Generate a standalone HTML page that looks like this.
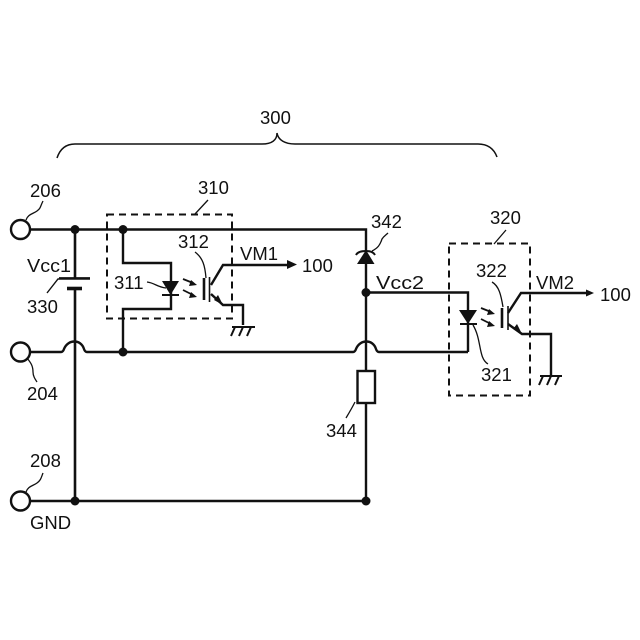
<!DOCTYPE html>
<html><head><meta charset="utf-8"><style>
html,body{margin:0;padding:0;background:#fff}
svg{display:block}
text{font-family:"Liberation Sans",sans-serif;font-size:18.500px;fill:#111}
</style></head><body>
<svg width="640" height="640" viewBox="0 0 640 640" xmlns="http://www.w3.org/2000/svg">
<g fill="none" stroke="#111" stroke-width="2.400">
<!-- main rails -->
<path d="M30 229.500H366V252"/>
<path d="M30 352H61Q63 352 64 349C68 339 81 339 84 349Q85 352 87 352H353Q355 352 356 349C360 339 373 339 376 349Q377 352 379 352H468"/>
<path d="M468 352V292.500H366"/>
<path d="M30 501H366V403M366 371V262"/>
<path d="M75 229V278M75 288V501" stroke-width="2.600"/>
<rect x="357.500" y="371" width="17.500" height="32"/>
<!-- opto 1 -->
<path d="M123 229V263H171V309H123V352"/>
<path d="M211 285L223 265H288M211 294L223 305H243V325"/>
<path d="M204 278V300" stroke-width="2.600"/>
<path d="M209.500 277V302" stroke-width="1.600"/>
<path d="M162 295H179" stroke-width="2"/>
<!-- ground 1 -->
<path d="M232 327H255M235 327L231 336M243 327L239 336M251 327L247 336" stroke-width="2"/>
<!-- opto 2 -->
<path d="M460 324H477" stroke-width="2"/>
<path d="M508 313L521 293H588M508 324L522 334H551V376"/>
<path d="M502 308V328" stroke-width="2.600"/>
<path d="M508 306V330" stroke-width="1.600"/>
<path d="M540 376H562M543 376L539 385M551 376L547 385M559 376L555 385" stroke-width="2"/>
<!-- zener -->
<path d="M356 255Q358 251 366 251Q373 251 375 255" stroke-width="2"/>
</g>
<!-- battery -->
<path d="M59 278H90" stroke="#111" stroke-width="1.800" fill="none"/>
<path d="M67 288.500H82" stroke="#111" stroke-width="3.600" fill="none"/>
<!-- dashed boxes -->
<g fill="none" stroke="#111" stroke-width="2" stroke-dasharray="7 5">
<rect x="107" y="214.500" width="125" height="104"/>
<rect x="449" y="243.500" width="81" height="152"/>
</g>
<!-- terminals -->
<g fill="#fff" stroke="#111" stroke-width="2.400">
<circle cx="20.500" cy="229.500" r="9.500"/>
<circle cx="20.500" cy="352" r="9.500"/>
<circle cx="20.500" cy="501" r="9.500"/>
</g>
<!-- dots -->
<g fill="#111">
<circle cx="75" cy="229.500" r="4.500"/>
<circle cx="123" cy="229.500" r="4.500"/>
<circle cx="123" cy="352" r="4.500"/>
<circle cx="75" cy="501" r="4.500"/>
<circle cx="366" cy="501" r="4.500"/>
<circle cx="366" cy="292.500" r="4.500"/>
<!-- diodes -->
<path d="M162 281H179L170.500 295Z"/>
<path d="M459 310H477L468 324Z"/>
<path d="M357 264H374.500L366 250Z"/>
<!-- arrowheads -->
<path d="M287 260L297 264.500L287 269Z"/>
<path d="M586 289.500L594 293L586 296.500Z"/>
<path d="M223 305L214 300L218 295Z"/>
<path d="M522 334L513 329L517 324Z"/>
</g>
<!-- photon arrows -->
<g fill="none" stroke="#111" stroke-width="1.800">
<path d="M183 279L193 283M183 290L193 295"/>
<path d="M481 308L491 312M481 319L491 324"/>
</g>
<g fill="#111">
<path d="M197 285L189 286L191 280Z"/><path d="M197 297L189 298L191 292Z"/>
<path d="M495 314L487 315L489 309Z"/><path d="M495 326L487 327L489 321Z"/>
</g>
<!-- leaders and brace -->
<g fill="none" stroke="#111" stroke-width="1.300">
<path d="M26 220C28 214 33 214 37 211C41 208 40 207 43 201"/>
<path d="M27 358C31 363 33 366 33 372C33 376 35 379 37 382"/>
<path d="M26 492C28 486 33 486 37 483C41 480 41 478 43 473"/>
<path d="M47 293L58 279H90" stroke-width="1.400"/>
<path d="M195 214L208 200"/>
<path d="M147 282C155 283 157 287 166 288"/>
<path d="M195 252C203 258 205 266 206 278"/>
<path d="M372 251C378 248 380 245 382 239C384 236 386 235 388 233"/>
<path d="M355 402C352 408 349 413 346 418"/>
<path d="M494 244L506 230"/>
<path d="M492 282C499 286 501 295 503 307"/>
<path d="M473 325C482 340 478 358 488 364"/>
<path d="M57 158C60 149 66 144 75 144H262C272 144 277 140 277 133C278 140 285 144 295 144H478C488 144 494 149 497 157" stroke-width="1.500"/>
</g>
<!-- labels -->
<text x="30" y="197">206</text>
<text x="27" y="400">204</text>
<text x="30" y="467">208</text>
<text x="30" y="529">GND</text>
<text x="27" y="272" textLength="44" lengthAdjust="spacingAndGlyphs">Vcc1</text>
<text x="27" y="313">330</text>
<text x="260" y="124">300</text>
<text x="198" y="194">310</text>
<text x="178" y="248">312</text>
<text x="114" y="289">311</text>
<text x="240" y="260" textLength="38" lengthAdjust="spacingAndGlyphs">VM1</text>
<text x="302" y="272">100</text>
<text x="371" y="228">342</text>
<text x="376" y="289" textLength="48" lengthAdjust="spacingAndGlyphs">Vcc2</text>
<text x="326" y="437">344</text>
<text x="490" y="224">320</text>
<text x="476" y="277">322</text>
<text x="481" y="381">321</text>
<text x="536" y="289" textLength="38" lengthAdjust="spacingAndGlyphs">VM2</text>
<text x="600" y="301">100</text>
</svg>
</body></html>
